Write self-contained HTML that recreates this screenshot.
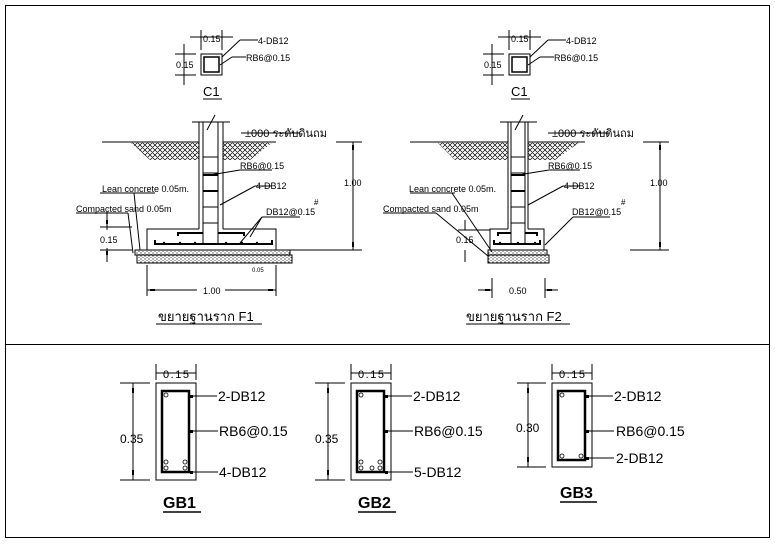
<!DOCTYPE html>
<html><head><meta charset="utf-8"><style>
html,body{margin:0;padding:0;background:#fff}
svg{display:block}
text{font-family:"Liberation Sans","Noto Sans CJK SC",sans-serif;fill:#000}
</style></head><body>
<svg width="775" height="545" viewBox="0 0 775 545" xmlns="http://www.w3.org/2000/svg">
<defs>
<pattern id="soil" width="5" height="5" patternUnits="userSpaceOnUse">
<path d="M0 5L5 0M-1 1L1 -1M4 6L6 4M0 0L5 5M-1 4L1 6M4 -1L6 1" stroke="#000" stroke-width="0.7"/>
</pattern>
<pattern id="sand" width="4" height="3" patternUnits="userSpaceOnUse">
<circle cx="1" cy="1" r="0.6" fill="#000"/><circle cx="3" cy="2.4" r="0.5" fill="#000"/>
</pattern>
</defs>
<rect x="5.5" y="5.5" width="764" height="532" fill="none" stroke="#000"/>
<line x1="5" y1="344.5" x2="770" y2="344.5" stroke="#000"/>

<g id="c1" stroke="#000" fill="none" stroke-width="1">
<rect x="201" y="54" width="21" height="21"/>
<rect x="204" y="57" width="15" height="15" stroke-width="1.5"/>
<line x1="201" y1="30" x2="201" y2="50"/><line x1="222" y1="30" x2="222" y2="50"/>
<line x1="190" y1="37" x2="233" y2="37"/>
<line x1="175" y1="54" x2="196" y2="54"/><line x1="175" y1="75" x2="196" y2="75"/>
<line x1="184" y1="44" x2="184" y2="85"/>
<line x1="222" y1="57" x2="240" y2="40"/><line x1="240" y1="40" x2="258" y2="40"/>
<line x1="220" y1="65" x2="232" y2="57"/><line x1="232" y1="57" x2="246" y2="57"/>
<line x1="203" y1="99" x2="222" y2="99"/>
</g>
<text x="203" y="42" font-size="9">0.15</text>
<text x="176" y="68" font-size="9">0.15</text>
<text x="258" y="44" font-size="9">4-DB12</text>
<text x="246" y="61" font-size="9">RB6@0.15</text>
<text x="203" y="96" font-size="13">C1</text>

<g transform="translate(308,0)">
<g stroke="#000" fill="none" stroke-width="1">
<rect x="201" y="54" width="21" height="21"/>
<rect x="204" y="57" width="15" height="15" stroke-width="1.5"/>
<line x1="201" y1="30" x2="201" y2="50"/><line x1="222" y1="30" x2="222" y2="50"/>
<line x1="190" y1="37" x2="233" y2="37"/>
<line x1="175" y1="54" x2="196" y2="54"/><line x1="175" y1="75" x2="196" y2="75"/>
<line x1="184" y1="44" x2="184" y2="85"/>
<line x1="222" y1="57" x2="240" y2="40"/><line x1="240" y1="40" x2="258" y2="40"/>
<line x1="220" y1="65" x2="232" y2="57"/><line x1="232" y1="57" x2="246" y2="57"/>
<line x1="203" y1="99" x2="222" y2="99"/>
</g>
<text x="203" y="42" font-size="9">0.15</text>
<text x="176" y="68" font-size="9">0.15</text>
<text x="258" y="44" font-size="9">4-DB12</text>
<text x="246" y="61" font-size="9">RB6@0.15</text>
<text x="203" y="96" font-size="13">C1</text>
</g>

<!-- F1 -->
<g stroke="#000" fill="none" stroke-width="1">
<path d="M130 142 L199 142 L199 160 L150 160 Z" fill="url(#soil)" stroke="none"/>
<path d="M223 142 L273 142 L250 160 L223 160 Z" fill="url(#soil)" stroke="none"/>
<line x1="102" y1="142" x2="199" y2="142"/><line x1="223" y1="142" x2="276" y2="142"/>
<line x1="192" y1="122" x2="230" y2="122"/>
<line x1="199" y1="122" x2="199" y2="229"/><line x1="223" y1="122" x2="223" y2="229"/>
<line x1="203" y1="122" x2="203" y2="244"/><line x1="218" y1="122" x2="218" y2="244"/>
<line x1="203" y1="157" x2="218" y2="157"/><line x1="203" y1="173" x2="218" y2="173"/>
<line x1="203" y1="175" x2="218" y2="175" stroke-width="2"/><line x1="203" y1="191" x2="218" y2="191" stroke-width="2"/>
<line x1="203" y1="207" x2="218" y2="207"/><line x1="203" y1="223" x2="218" y2="223"/>
<line x1="207" y1="130" x2="215" y2="115"/>
<path d="M147 250 L147 229 L199 229 M223 229 L276 229 L276 250"/>
<path d="M155 240 L155 244 L272 244 L272 240" stroke-width="2"/>
<path d="M178 236 L178 233 L203 233 M218 233 L244 233 L244 236" stroke-width="2"/>
<rect x="135" y="250" width="155" height="5" fill="url(#sand)"/>
<rect x="137" y="255" width="155" height="8" fill="url(#sand)"/>
<line x1="353" y1="142" x2="353" y2="250"/><line x1="336" y1="142" x2="362" y2="142"/><line x1="290" y1="250" x2="362" y2="250"/>
<line x1="147" y1="265" x2="147" y2="296"/><line x1="276" y1="265" x2="276" y2="296"/>
<line x1="147" y1="290" x2="197" y2="290"/><line x1="225" y1="290" x2="276" y2="290"/>
<line x1="100" y1="227" x2="132" y2="227"/><line x1="107" y1="212" x2="107" y2="230"/><line x1="107" y1="248" x2="107" y2="262"/>
<line x1="100" y1="250" x2="132" y2="250"/>
<line x1="100" y1="193" x2="155" y2="193"/><line x1="134" y1="193" x2="140" y2="250"/>
<line x1="76" y1="213" x2="128" y2="213"/><line x1="128" y1="213" x2="133" y2="253"/>
<line x1="240" y1="170" x2="210" y2="175"/><line x1="240" y1="170" x2="272" y2="170"/>
<line x1="255" y1="186" x2="220" y2="205"/>
<line x1="255" y1="186" x2="272" y2="186"/>
<line x1="262" y1="217" x2="240" y2="243"/><line x1="262" y1="217" x2="250" y2="237"/><line x1="262" y1="217" x2="300" y2="217"/>
<line x1="241" y1="133" x2="300" y2="133"/>
<line x1="156" y1="324" x2="262" y2="324"/>
</g>
<g fill="#000">
<circle cx="164" cy="243" r="1.2"/><circle cx="180" cy="243" r="1.2"/><circle cx="195" cy="243" r="1.2"/><circle cx="226" cy="243" r="1.2"/><circle cx="242" cy="243" r="1.2"/><circle cx="257" cy="243" r="1.2"/>
<rect x="352" y="145" width="2" height="5"/><rect x="352" y="242" width="2" height="5"/>
<rect x="150" y="289" width="5" height="2"/><rect x="268" y="289" width="5" height="2"/>
<rect x="106" y="220" width="2" height="4"/><rect x="106" y="251" width="2" height="4"/>
</g>
<text x="245" y="137" font-size="11">±000 ระดับดินถม</text>
<text x="240" y="169" font-size="9">RB6@0.15</text>
<text x="256" y="189" font-size="9">4-DB12</text>
<text x="266" y="215" font-size="9">DB12@0.15</text>
<text x="314" y="205" font-size="8">#</text>
<text x="102" y="192" font-size="9">Lean concrete 0.05m.</text>
<text x="76" y="212" font-size="9">Compacted sand 0.05m</text>
<text x="100" y="243" font-size="9">0.15</text>
<text x="344" y="186" font-size="9">1.00</text>
<text x="203" y="294" font-size="9">1.00</text>
<text x="252" y="272" font-size="6">0.05</text>
<text x="158" y="321" font-size="13">ขยายฐานราก F1</text>

<!-- F2 -->
<g stroke="#000" fill="none" stroke-width="1">
<path d="M437 142 L508 142 L508 160 L455 160 Z" fill="url(#soil)" stroke="none"/>
<path d="M528 142 L580 142 L555 160 L528 160 Z" fill="url(#soil)" stroke="none"/>
<line x1="410" y1="142" x2="508" y2="142"/><line x1="528" y1="142" x2="585" y2="142"/>
<line x1="500" y1="122" x2="537" y2="122"/>
<line x1="508" y1="122" x2="508" y2="229"/><line x1="528" y1="122" x2="528" y2="229"/>
<line x1="511" y1="122" x2="511" y2="244"/><line x1="525" y1="122" x2="525" y2="244"/>
<line x1="511" y1="157" x2="525" y2="157"/><line x1="511" y1="173" x2="525" y2="173"/>
<line x1="511" y1="175" x2="525" y2="175" stroke-width="2"/><line x1="511" y1="191" x2="525" y2="191" stroke-width="2"/>
<line x1="511" y1="207" x2="525" y2="207"/><line x1="511" y1="223" x2="525" y2="223"/>
<line x1="515" y1="130" x2="523" y2="115"/>
<path d="M490 250 L490 229 L508 229 M528 229 L544 229 L544 250"/>
<path d="M494 240 L494 244 L540 244 L540 240" stroke-width="2"/>
<path d="M498 236 L498 233 L511 233 M525 233 L537 233 L537 236" stroke-width="2"/>
<rect x="488" y="250" width="59" height="5" fill="url(#sand)"/>
<rect x="488" y="255" width="61" height="8" fill="url(#sand)"/>
<line x1="660" y1="142" x2="660" y2="250"/><line x1="643" y1="142" x2="669" y2="142"/><line x1="630" y1="250" x2="669" y2="250"/>
<line x1="492" y1="278" x2="492" y2="298"/><line x1="545" y1="278" x2="545" y2="298"/>
<line x1="478" y1="290" x2="492" y2="290"/><line x1="545" y1="290" x2="558" y2="290"/>
<line x1="458" y1="230" x2="490" y2="230"/><line x1="465" y1="220" x2="465" y2="230"/><line x1="465" y1="250" x2="465" y2="262"/>
<line x1="410" y1="193" x2="455" y2="193"/><line x1="452" y1="193" x2="492" y2="252"/>
<line x1="383" y1="213" x2="436" y2="213"/><line x1="436" y1="213" x2="488" y2="256"/>
<line x1="549" y1="170" x2="518" y2="175"/><line x1="549" y1="170" x2="580" y2="170"/>
<line x1="563" y1="186" x2="528" y2="205"/><line x1="563" y1="186" x2="580" y2="186"/>
<line x1="573" y1="217" x2="545" y2="245"/><line x1="573" y1="217" x2="610" y2="217"/>
<line x1="548" y1="133" x2="610" y2="133"/>
<line x1="466" y1="324" x2="570" y2="324"/>
</g>
<g fill="#000">
<circle cx="500" cy="243" r="1.2"/><circle cx="518" cy="243" r="1.2"/><circle cx="535" cy="243" r="1.2"/>
<rect x="659" y="145" width="2" height="5"/><rect x="659" y="242" width="2" height="5"/>
<rect x="485" y="289" width="5" height="2"/><rect x="547" y="289" width="5" height="2"/>
</g>
<text x="552" y="137" font-size="11">±000 ระดับดินถม</text>
<text x="548" y="169" font-size="9">RB6@0.15</text>
<text x="564" y="189" font-size="9">4-DB12</text>
<text x="572" y="215" font-size="9">DB12@0.15</text>
<text x="621" y="205" font-size="8">#</text>
<text x="409" y="192" font-size="9">Lean concrete 0.05m.</text>
<text x="383" y="212" font-size="9">Compacted sand 0.05m</text>
<text x="456" y="243" font-size="9">0.15</text>
<text x="650" y="186" font-size="9">1.00</text>
<text x="509" y="294" font-size="9">0.50</text>
<text x="466" y="321" font-size="13">ขยายฐานราก F2</text>

<!-- Beams -->
<g stroke="#000" fill="none">
<rect x="156" y="383" width="40" height="97"/>
<rect x="162" y="391" width="27" height="81" stroke-width="2.5"/>
<line x1="156" y1="364" x2="156" y2="380"/><line x1="196" y1="364" x2="196" y2="380"/><line x1="156" y1="373" x2="196" y2="373"/>
<line x1="120" y1="383" x2="150" y2="383"/><line x1="120" y1="480" x2="150" y2="480"/><line x1="133" y1="383" x2="133" y2="480"/>
<line x1="191" y1="396" x2="217" y2="396"/><line x1="191" y1="431" x2="218" y2="431"/><line x1="191" y1="472" x2="218" y2="472"/>
<line x1="163" y1="512" x2="201" y2="512" stroke-width="1.5"/>

<rect x="351" y="383" width="40" height="97"/>
<rect x="357" y="391" width="27" height="81" stroke-width="2.5"/>
<line x1="351" y1="364" x2="351" y2="380"/><line x1="391" y1="364" x2="391" y2="380"/><line x1="351" y1="373" x2="391" y2="373"/>
<line x1="315" y1="383" x2="345" y2="383"/><line x1="315" y1="480" x2="345" y2="480"/><line x1="328" y1="383" x2="328" y2="480"/>
<line x1="386" y1="396" x2="412" y2="396"/><line x1="386" y1="431" x2="413" y2="431"/><line x1="386" y1="472" x2="413" y2="472"/>
<line x1="358" y1="512" x2="396" y2="512" stroke-width="1.5"/>

<rect x="552" y="383" width="40" height="84"/>
<rect x="558" y="391" width="27" height="69" stroke-width="2.5"/>
<line x1="552" y1="364" x2="552" y2="380"/><line x1="592" y1="364" x2="592" y2="380"/><line x1="552" y1="373" x2="592" y2="373"/>
<line x1="517" y1="383" x2="546" y2="383"/><line x1="517" y1="467" x2="546" y2="467"/><line x1="528" y1="383" x2="528" y2="467"/>
<line x1="587" y1="396" x2="613" y2="396"/><line x1="587" y1="431" x2="614" y2="431"/><line x1="587" y1="458" x2="614" y2="458"/>
<line x1="560" y1="502" x2="597" y2="502" stroke-width="1.5"/>
</g>
<g fill="#000">
<rect x="132" y="388" width="2" height="5"/><rect x="132" y="470" width="2" height="5"/>
<rect x="327" y="388" width="2" height="5"/><rect x="327" y="470" width="2" height="5"/>
<rect x="527" y="388" width="2" height="5"/><rect x="527" y="457" width="2" height="5"/>
<rect x="190" y="395" width="3" height="3"/><rect x="190" y="430" width="3" height="3"/><rect x="190" y="471" width="3" height="3"/>
<rect x="385" y="395" width="3" height="3"/><rect x="385" y="430" width="3" height="3"/><rect x="385" y="471" width="3" height="3"/>
<rect x="586" y="395" width="3" height="3"/><rect x="586" y="430" width="3" height="3"/><rect x="586" y="457" width="3" height="3"/>
</g>
<g stroke="#000" fill="#fff" stroke-width="0.8">
<circle cx="166" cy="395" r="2"/><circle cx="166" cy="462" r="2"/><circle cx="166" cy="468" r="2"/><circle cx="185" cy="462" r="2"/><circle cx="185" cy="468" r="2"/>
<circle cx="361" cy="395" r="2"/><circle cx="361" cy="462" r="2"/><circle cx="361" cy="468" r="2"/><circle cx="372" cy="468" r="2"/><circle cx="380" cy="462" r="2"/><circle cx="380" cy="468" r="2"/>
<circle cx="562" cy="395" r="2"/><circle cx="562" cy="456" r="2"/><circle cx="581" cy="456" r="2"/>
</g>
<text x="163" y="378" font-size="11" textLength="26">0.15</text>
<text x="120" y="443" font-size="12">0.35</text>
<text x="218" y="401" font-size="14">2-DB12</text>
<text x="219" y="436" font-size="14">RB6@0.15</text>
<text x="219" y="477" font-size="14">4-DB12</text>
<text x="163" y="508" font-size="16" font-weight="bold">GB1</text>

<text x="358" y="378" font-size="11" textLength="26">0.15</text>
<text x="315" y="443" font-size="12">0.35</text>
<text x="413" y="401" font-size="14">2-DB12</text>
<text x="414" y="436" font-size="14">RB6@0.15</text>
<text x="414" y="477" font-size="14">5-DB12</text>
<text x="358" y="508" font-size="16" font-weight="bold">GB2</text>

<text x="559" y="378" font-size="11" textLength="26">0.15</text>
<text x="516" y="432" font-size="12">0.30</text>
<text x="614" y="401" font-size="14">2-DB12</text>
<text x="616" y="436" font-size="14">RB6@0.15</text>
<text x="616" y="463" font-size="14">2-DB12</text>
<text x="560" y="498" font-size="16" font-weight="bold">GB3</text>
</svg>
</body></html>
